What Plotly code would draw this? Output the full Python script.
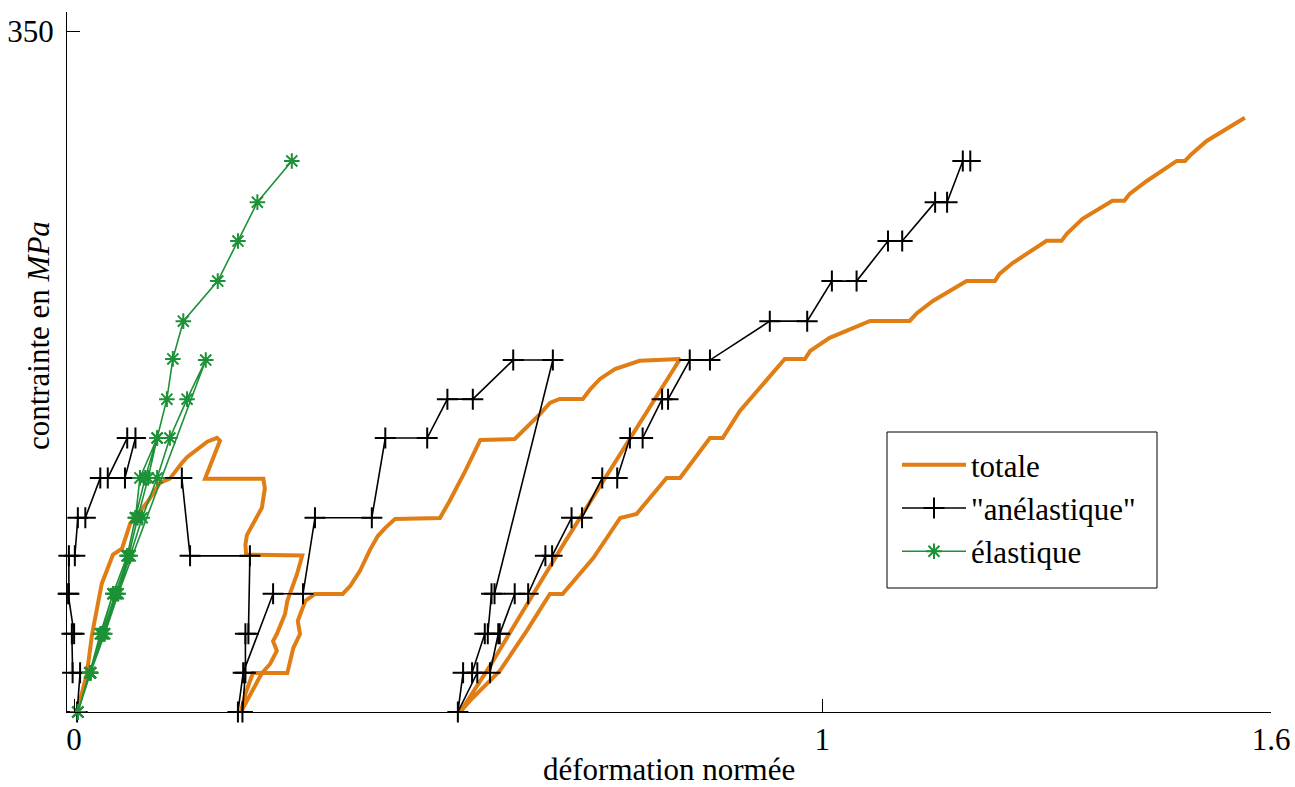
import plotly.graph_objects as go

# ---- data ----
totale_x = [0.004, 0.008, 0.017, 0.024, 0.031, 0.037, 0.052, 0.064, 0.075, 0.098, 0.115, 0.128, 0.144, 0.151, 0.178, 0.191, 0.195,
            0.175, 0.253, 0.255, 0.251, 0.239, 0.231, 0.229, 0.230, 0.305,
            0.298, 0.285, 0.282, 0.271, 0.266, 0.271, 0.262, 0.251, 0.235, 0.223,
            0.229, 0.239, 0.285, 0.293, 0.302, 0.299, 0.303, 0.309, 0.322, 0.359,
            0.369, 0.382, 0.396, 0.406, 0.416, 0.429, 0.489, 0.502, 0.523, 0.536, 0.543, 0.589,
            0.603, 0.623, 0.636, 0.649, 0.680, 0.690, 0.703, 0.723, 0.756, 0.810,
            0.800, 0.657, 0.596, 0.556, 0.516,
            0.529, 0.549, 0.569, 0.605, 0.636, 0.653, 0.694, 0.730, 0.752, 0.792, 0.810, 0.850, 0.867,
            0.890, 0.913, 0.934, 0.950, 0.977, 0.984, 1.010, 1.064, 1.117, 1.127, 1.148, 1.193, 1.231,
            1.237, 1.255, 1.300, 1.320, 1.327, 1.348, 1.388, 1.404, 1.411, 1.434, 1.474, 1.485, 1.494,
            1.514, 1.541, 1.565]
totale_y = [0, 5.7, 19.5, 40, 53.5, 66, 81, 84, 97, 108, 118, 120, 128, 131, 139, 141, 139.5,
            120, 120, 115, 105, 97, 91, 86, 81, 80.5,
            71, 57.1, 50.4, 40.1, 36.5, 31.4, 24.7, 20, 8.2, 0,
            9.3, 20, 20, 32.9, 40.1, 46.8, 50.9, 57.1, 60.7, 60.7,
            64.8, 72.5, 83.8, 90.5, 94.7, 99.3, 99.8, 108.5, 124, 134.3, 139.9, 140.4,
            145.6, 153.3, 159, 161, 161, 166, 171.3, 176.4, 180.6, 181.6,
            175.4, 88, 49.4, 23.7, 0,
            5.7, 13.4, 21.1, 41.7, 60.7, 60.7, 79.2, 99.8, 101.9, 120.4, 120.4, 140.9, 140.9,
            154.8, 165.1, 173.9, 181.6, 181.6, 185.7, 192.4, 201.1, 201.1, 205.2, 211.4, 221.7, 221.7,
            225.3, 231, 242.3, 242.3, 245.9, 253.6, 262.9, 262.9, 266.5, 273.1, 283.4, 283.4, 287,
            293.7, 299.9, 305.6]

anel_x = [0.004, 0.008, -0.002, -0.003, 0.000, -0.008, -0.007, -0.007, 0.001, 0.005, 0.015, 0.035, 0.045, 0.071, 0.082,
          0.068, 0.144, 0.155, 0.235, 0.233, 0.229, 0.229, 0.225, 0.219,
          0.226, 0.266, 0.306, 0.322, 0.398, 0.416, 0.472, 0.499, 0.533, 0.587, 0.640,
          0.562, 0.558, 0.553, 0.549, 0.532, 0.520, 0.513,
          0.539, 0.556, 0.567, 0.569, 0.589, 0.607, 0.630, 0.639, 0.665, 0.679, 0.706, 0.726,
          0.743, 0.760, 0.786, 0.794, 0.823, 0.850, 0.930, 0.980, 1.013, 1.046, 1.088, 1.107,
          1.151, 1.167, 1.188, 1.198]
anel_y = [0, 20.2, 20.2, 40.2, 40.2, 60.8, 60.8, 80.3, 80.3, 99.9, 99.9, 120.4, 120.4, 140.9, 140.9,
          120.4, 120.4, 80.3, 80.3, 40.2, 40.2, 20.2, 0, 0,
          20.2, 60.8, 60.8, 99.9, 99.9, 140.9, 140.9, 160.9, 160.9, 181, 181,
          60.8, 60.8, 40.2, 40.2, 20.2, 20.2, 0,
          20.2, 20.2, 40.2, 40.2, 60.8, 60.8, 80.3, 80.3, 99.9, 99.9, 120.4, 120.4,
          140.9, 140.9, 160.9, 160.9, 181, 181, 201, 201, 221.6, 221.6, 242.2, 242.2,
          262.2, 262.2, 283.4, 283.4]

elas_x = [0.005, 0.021, 0.035, 0.052, 0.071, 0.082, 0.088, 0.111,
          0.099, 0.085, 0.073, 0.055, 0.038, 0.022, 0.005,
          0.022, 0.039, 0.057, 0.075, 0.091, 0.111, 0.128, 0.151, 0.176,
          0.059, 0.041, 0.022, 0.005,
          0.021, 0.036, 0.052, 0.071, 0.082, 0.095, 0.111, 0.124, 0.132, 0.146, 0.192, 0.219, 0.245, 0.291]
elas_y = [0, 20.2, 40.2, 60.8, 80.3, 99.9, 120.4, 140.9,
          120.4, 99.9, 80.3, 60.8, 40.2, 20.2, 0,
          20.2, 40.2, 60.8, 80.3, 99.9, 120.4, 140.9, 160.9, 181,
          60.8, 40.2, 20.2, 0,
          20.2, 40.2, 60.8, 80.3, 99.9, 120.4, 140.9, 160.9, 181.6, 201, 221.6, 242.2, 262.2, 283.4]

x_ticks = [0, 1, 1.6]
x_ticklabels = ["0", "1", "1.6"]
y_ticks = [350]
y_ticklabels = ["350"]
series_names = ["totale", '"anélastique"', "élastique"]

FONT = "Liberation Serif, Times New Roman, serif"
ORANGE = "rgb(224,125,20)"
GREEN = "rgb(28,145,55)"

fig = go.Figure()
fig.add_trace(go.Scatter(x=totale_x, y=totale_y, mode="lines", name=series_names[0],
                         line=dict(color=ORANGE, width=4), cliponaxis=False))
fig.add_trace(go.Scatter(x=anel_x, y=anel_y, mode="lines+markers", name=series_names[1],
                         line=dict(color="black", width=1.6),
                         marker=dict(symbol="cross-thin-open", size=15, line=dict(color="black", width=2)),
                         cliponaxis=False))
fig.add_trace(go.Scatter(x=elas_x, y=elas_y, mode="lines+markers", name=series_names[2],
                         line=dict(color=GREEN, width=1.6),
                         marker=dict(symbol="asterisk-open", size=13, line=dict(color=GREEN, width=2)),
                         cliponaxis=False))

# legend frame (plot-area paper coords: x 67..1271 px, y 12..712 px)
fig.add_shape(type="rect", xref="paper", yref="paper",
              x0=(887 - 67) / 1204, x1=(1157 - 67) / 1204,
              y0=(712 - 588) / 700, y1=(712 - 432) / 700,
              line=dict(color="black", width=1), fillcolor="white", layer="below")

fig.update_layout(
    width=1295, height=787, autosize=False,
    margin=dict(l=67, r=24, t=12, b=75, autoexpand=False),
    paper_bgcolor="white", plot_bgcolor="white",
    font=dict(family=FONT, size=31, color="black"),
    showlegend=True,
    legend=dict(x=(897 - 67) / 1204, y=(712 - 438) / 700, xanchor="left", yanchor="top",
                borderwidth=0, bgcolor="rgba(0,0,0,0)",
                font=dict(family=FONT, size=31, color="black"),
                itemwidth=64, tracegroupgap=0),
    xaxis=dict(range=[-0.0095, 1.6], showgrid=False, zeroline=False, automargin=False,
               showline=True, linecolor="black", linewidth=1,
               ticks="inside", ticklen=13, tickcolor="black", tickwidth=1,
               tickvals=x_ticks, ticktext=x_ticklabels,
               tickfont=dict(family=FONT, size=31, color="black")),
    yaxis=dict(range=[0, 360], showgrid=False, zeroline=False, automargin=False,
               showline=True, linecolor="black", linewidth=1,
               ticks="inside", ticklen=13, tickcolor="black", tickwidth=1,
               tickvals=y_ticks, ticktext=y_ticklabels, ticklabelstandoff=6,
               tickfont=dict(family=FONT, size=31, color="black")),
    annotations=[
        dict(text="déformation normée", xref="paper", yref="paper", x=0.5, y=-0.0825,
             xanchor="center", yanchor="middle", showarrow=False,
             font=dict(family=FONT, size=31, color="black")),
        dict(text="contrainte en <i>MPa</i>", xref="paper", yref="paper", x=-0.0235, y=0.538,
             xanchor="center", yanchor="middle", textangle=-90, showarrow=False,
             font=dict(family=FONT, size=31, color="black")),
    ],
)

fig.write_html("out.html",
               config={"displayModeBar": False, "responsive": False},
               post_script="document.body.style.margin='0';document.body.style.overflow='hidden';")
